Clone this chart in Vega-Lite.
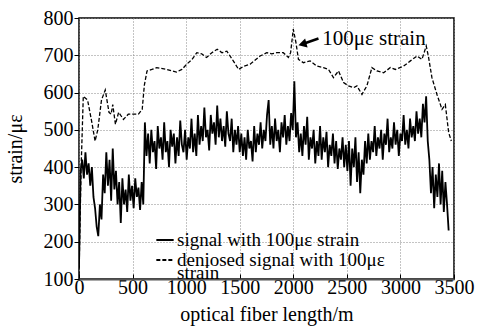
{
  "$schema": "https://vega.github.io/schema/vega-lite/v6.json",
  "width": 375,
  "height": 261,
  "autosize": {"type": "none"},
  "padding": {"left": 79, "top": 18, "right": 32, "bottom": 52},
  "background": "white",
  "config": {
    "view": {"stroke": "black", "strokeWidth": 1.5},
    "font": "Times New Roman",
    "axis": {"labelFont": "Times New Roman", "titleFont": "Times New Roman"}
  },
  "datasets": {
    "sig": [
      {"x":0,"y":130},{"x":15,"y":390},{"x":30,"y":420},{"x":45,"y":370},{"x":60,"y":440},{"x":75,"y":380},{"x":90,"y":410},{"x":105,"y":350},{"x":120,"y":400},{"x":135,"y":320},{"x":150,"y":290},{"x":165,"y":240},{"x":180,"y":215},{"x":195,"y":300},{"x":210,"y":260},{"x":225,"y":380},{"x":240,"y":330},{"x":255,"y":440},{"x":270,"y":350},{"x":285,"y":420},{"x":300,"y":310},{"x":315,"y":450},{"x":330,"y":340},{"x":345,"y":390},{"x":360,"y":300},{"x":375,"y":360},{"x":390,"y":250},{"x":405,"y":370},{"x":420,"y":300},{"x":435,"y":340},{"x":450,"y":280},{"x":465,"y":380},{"x":480,"y":310},{"x":495,"y":350},{"x":510,"y":290},{"x":525,"y":370},{"x":540,"y":320},{"x":555,"y":345},{"x":570,"y":285},{"x":585,"y":360},{"x":600,"y":300},
      {"x":615,"y":520},{"x":630,"y":430},{"x":645,"y":490},{"x":660,"y":410},{"x":675,"y":500},{"x":690,"y":440},{"x":705,"y":470},{"x":720,"y":395},{"x":735,"y":510},{"x":750,"y":450},{"x":765,"y":480},{"x":780,"y":420},{"x":795,"y":520},{"x":810,"y":440},{"x":825,"y":470},{"x":840,"y":400},{"x":855,"y":500},{"x":870,"y":455},{"x":885,"y":490},{"x":900,"y":410},{"x":915,"y":480},{"x":930,"y":430},{"x":945,"y":525},{"x":960,"y":460},{"x":975,"y":440},{"x":990,"y":500},{"x":1005,"y":420},{"x":1020,"y":480},{"x":1035,"y":450},{"x":1050,"y":530},{"x":1065,"y":440},{"x":1080,"y":490},{"x":1095,"y":430},
      {"x":1110,"y":540},{"x":1125,"y":460},{"x":1140,"y":510},{"x":1155,"y":470},{"x":1170,"y":560},{"x":1185,"y":480},{"x":1200,"y":500},{"x":1215,"y":445},{"x":1230,"y":540},{"x":1245,"y":490},{"x":1260,"y":520},{"x":1275,"y":460},{"x":1290,"y":565},{"x":1305,"y":480},{"x":1320,"y":530},{"x":1335,"y":470},{"x":1350,"y":510},{"x":1365,"y":455},{"x":1380,"y":550},{"x":1395,"y":490},{"x":1410,"y":470},{"x":1425,"y":530},{"x":1440,"y":440},{"x":1455,"y":500},{"x":1470,"y":460},{"x":1485,"y":510},{"x":1500,"y":440},
      {"x":1515,"y":490},{"x":1530,"y":430},{"x":1545,"y":480},{"x":1560,"y":420},{"x":1575,"y":500},{"x":1590,"y":450},{"x":1605,"y":470},{"x":1620,"y":415},{"x":1635,"y":510},{"x":1650,"y":440},{"x":1665,"y":490},{"x":1680,"y":460},{"x":1695,"y":520},{"x":1710,"y":450},{"x":1725,"y":500},{"x":1740,"y":470},{"x":1755,"y":540},{"x":1770,"y":580},{"x":1785,"y":460},{"x":1800,"y":510},{"x":1815,"y":450},{"x":1830,"y":530},{"x":1845,"y":470},{"x":1860,"y":500},{"x":1875,"y":440},{"x":1890,"y":520},{"x":1905,"y":480},{"x":1920,"y":540},{"x":1935,"y":460},{"x":1950,"y":510},{"x":1965,"y":470},{"x":1980,"y":545},{"x":1995,"y":500},{"x":2010,"y":630},{"x":2025,"y":480},
      {"x":2040,"y":520},{"x":2055,"y":440},{"x":2070,"y":490},{"x":2085,"y":430},{"x":2100,"y":510},{"x":2115,"y":460},{"x":2130,"y":535},{"x":2145,"y":420},{"x":2160,"y":480},{"x":2175,"y":450},{"x":2190,"y":500},{"x":2205,"y":410},{"x":2220,"y":470},{"x":2235,"y":430},{"x":2250,"y":510},{"x":2265,"y":420},{"x":2280,"y":480},{"x":2295,"y":440},{"x":2310,"y":495},{"x":2325,"y":400},{"x":2340,"y":460},{"x":2355,"y":430},{"x":2370,"y":490},{"x":2385,"y":410},{"x":2400,"y":470},{"x":2415,"y":395},{"x":2430,"y":450},{"x":2445,"y":420},{"x":2460,"y":480},{"x":2475,"y":400},{"x":2490,"y":460},
      {"x":2505,"y":390},{"x":2520,"y":470},{"x":2535,"y":350},{"x":2550,"y":450},{"x":2565,"y":400},{"x":2580,"y":480},{"x":2595,"y":360},{"x":2610,"y":440},{"x":2625,"y":330},{"x":2640,"y":420},{"x":2655,"y":380},{"x":2670,"y":470},{"x":2685,"y":410},
      {"x":2700,"y":490},{"x":2715,"y":420},{"x":2730,"y":470},{"x":2745,"y":440},{"x":2760,"y":510},{"x":2775,"y":430},{"x":2790,"y":480},{"x":2805,"y":450},{"x":2820,"y":500},{"x":2835,"y":420},{"x":2850,"y":490},{"x":2865,"y":460},{"x":2880,"y":530},{"x":2895,"y":440},{"x":2910,"y":480},{"x":2925,"y":450},{"x":2940,"y":520},{"x":2955,"y":460},{"x":2970,"y":500},{"x":2985,"y":430},{"x":3000,"y":490},{"x":3015,"y":470},{"x":3030,"y":540},{"x":3045,"y":460},{"x":3060,"y":500},{"x":3075,"y":450},{"x":3090,"y":530},{"x":3105,"y":480},{"x":3120,"y":510},{"x":3135,"y":470},{"x":3150,"y":550},{"x":3165,"y":490},{"x":3180,"y":530},{"x":3195,"y":480},{"x":3210,"y":570},{"x":3225,"y":520},{"x":3240,"y":590},{"x":3255,"y":470},
      {"x":3270,"y":420},{"x":3285,"y":330},{"x":3300,"y":400},{"x":3315,"y":290},{"x":3330,"y":380},{"x":3345,"y":320},{"x":3360,"y":410},{"x":3375,"y":300},{"x":3390,"y":390},{"x":3405,"y":280},{"x":3420,"y":360},{"x":3435,"y":300},{"x":3450,"y":230}
    ],
    "den": [
      {"x":0,"y":110},{"x":20,"y":400},{"x":40,"y":590},{"x":80,"y":580},{"x":120,"y":520},{"x":150,"y":470},{"x":175,"y":500},{"x":210,"y":580},{"x":245,"y":607},{"x":280,"y":547},{"x":300,"y":542},{"x":315,"y":568},{"x":340,"y":515},{"x":370,"y":547},{"x":415,"y":528},{"x":460,"y":542},{"x":555,"y":542},{"x":590,"y":555},{"x":610,"y":620},{"x":635,"y":658},{"x":680,"y":662},{"x":725,"y":667},{"x":820,"y":662},{"x":910,"y":655},{"x":960,"y":662},{"x":1005,"y":676},{"x":1055,"y":689},{"x":1100,"y":707},{"x":1145,"y":704},{"x":1190,"y":694},{"x":1240,"y":707},{"x":1290,"y":716},{"x":1335,"y":707},{"x":1380,"y":711},{"x":1440,"y":685},{"x":1490,"y":662},{"x":1540,"y":671},{"x":1597,"y":676},{"x":1690,"y":698},{"x":1752,"y":707},{"x":1798,"y":704},{"x":1845,"y":707},{"x":1907,"y":707},{"x":1954,"y":694},{"x":1975,"y":707},{"x":2000,"y":770},{"x":2025,"y":734},{"x":2048,"y":689},{"x":2095,"y":680},{"x":2157,"y":685},{"x":2219,"y":671},{"x":2281,"y":667},{"x":2329,"y":662},{"x":2375,"y":640},{"x":2422,"y":658},{"x":2469,"y":627},{"x":2516,"y":618},{"x":2562,"y":613},{"x":2594,"y":618},{"x":2641,"y":595},{"x":2687,"y":618},{"x":2734,"y":667},{"x":2781,"y":658},{"x":2843,"y":653},{"x":2906,"y":667},{"x":2953,"y":662},{"x":3030,"y":671},{"x":3093,"y":685},{"x":3155,"y":698},{"x":3201,"y":689},{"x":3241,"y":725},{"x":3263,"y":694},{"x":3294,"y":640},{"x":3341,"y":595},{"x":3388,"y":555},{"x":3419,"y":568},{"x":3450,"y":493},{"x":3475,"y":470}
    ],
    "arrow": [{"x":2235,"y":745},{"x":2095,"y":731}],
    "head": [{"x":2085,"y":730}],
    "ann": [{"x":2270,"y":745,"t":"100με strain"}]
  },
  "layer": [
    {
      "data": {"name": "sig"},
      "mark": {"type": "line", "color": "black", "strokeWidth": 1.8, "clip": true},
      "encoding": {
        "x": {"field": "x", "type": "quantitative", "scale": {"domain": [0, 3500], "nice": false},
          "axis": {"tickCount": 7, "format": "d",
            "labelFont": "Times New Roman", "labelFontSize": 20, "labelColor": "black", "labelOverlap": false, "labelFlush": false,
            "labelPadding": 3, "domain": true, "domainColor": "#555555", "domainWidth": 2, "ticks": true, "tickSize": -5, "tickColor": "black", "tickWidth": 1,
            "grid": true, "gridColor": "#888888", "gridDash": [1, 2], "gridWidth": 1,
            "title": "optical fiber length/m", "titleFont": "Times New Roman", "titleFontSize": 20, "titleFontWeight": "normal", "titleColor": "black", "titlePadding": 7}},
        "y": {"field": "y", "type": "quantitative", "scale": {"domain": [100, 800], "nice": false, "zero": false},
          "axis": {"tickCount": 8, "format": "d",
            "labelFont": "Times New Roman", "labelFontSize": 20, "labelColor": "black", "labelOverlap": false, "labelFlush": false,
            "labelPadding": 1, "domain": false, "ticks": true, "tickSize": 5, "tickColor": "black", "tickWidth": 1,
            "grid": true, "gridColor": "#888888", "gridDash": [1, 2], "gridWidth": 1,
            "title": "strain/με", "titleFont": "Times New Roman", "titleFontSize": 20, "titleFontWeight": "normal", "titleColor": "black", "titlePadding": 18}},
        "strokeDash": {
          "datum": "signal with 100με strain",
          "scale": {"domain": ["signal with 100με strain", "deniosed signal with 100με strain"], "range": [[1, 0], [4, 2]]},
          "legend": {
            "title": null,
            "orient": "none",
            "legendX": 76,
            "legendY": 212,
            "symbolType": "stroke",
            "symbolStrokeColor": "black",
            "symbolStrokeWidth": 2,
            "symbolSize": 300,
            "labelFont": "Times New Roman",
            "labelFontSize": 19,
            "labelColor": "black",
            "labelLimit": 400,
            "labelOffset": 2,
            "rowPadding": 0,
            "labelExpr": "datum.label == 'deniosed signal with 100με strain' ? ['deniosed signal with 100με', 'strain'] : datum.label",
            "encode": {"labels": {"update": {"lineHeight": {"value": 13}}}}
          }
        }
      }
    },
    {
      "data": {"name": "den"},
      "mark": {"type": "line", "color": "black", "strokeWidth": 1.3, "clip": true},
      "encoding": {
        "x": {"field": "x", "type": "quantitative"},
        "y": {"field": "y", "type": "quantitative"},
        "strokeDash": {"datum": "deniosed signal with 100με strain"}
      }
    },
    {
      "data": {"name": "arrow"},
      "mark": {"type": "line", "color": "black", "strokeWidth": 2.5},
      "encoding": {
        "x": {"field": "x", "type": "quantitative"},
        "y": {"field": "y", "type": "quantitative"}
      }
    },
    {
      "data": {"name": "head"},
      "mark": {"type": "point", "shape": "triangle-left", "filled": true, "color": "black", "size": 90, "opacity": 1, "angle": -15},
      "encoding": {
        "x": {"field": "x", "type": "quantitative"},
        "y": {"field": "y", "type": "quantitative"}
      }
    },
    {
      "data": {"name": "ann"},
      "mark": {"type": "text", "align": "left", "baseline": "middle", "font": "Times New Roman", "fontSize": 21, "color": "black"},
      "encoding": {
        "x": {"field": "x", "type": "quantitative"},
        "y": {"field": "y", "type": "quantitative"},
        "text": {"field": "t"}
      }
    }
  ]
}
